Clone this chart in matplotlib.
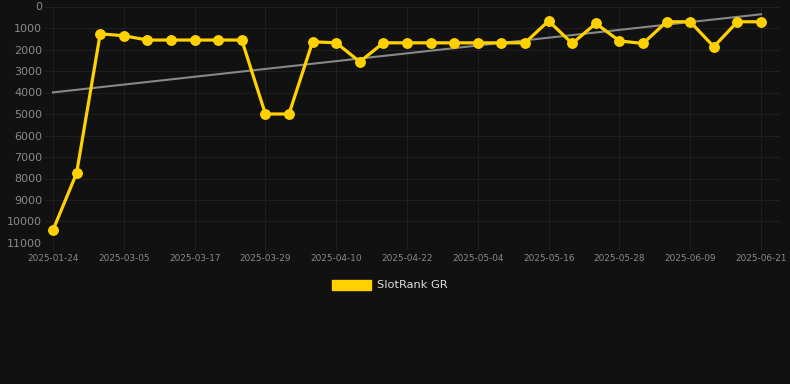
import numpy as np
import matplotlib
matplotlib.use("Agg")
import matplotlib.pyplot as plt
from matplotlib.patches import Patch

# dates of the rank samples (categorical x axis, every 3rd labelled)
dates = ["2025-01-24", "2025-02-07", "2025-02-21",
         "2025-03-05", "2025-03-09", "2025-03-13", "2025-03-17", "2025-03-21",
         "2025-03-25", "2025-03-29", "2025-04-02", "2025-04-06", "2025-04-10",
         "2025-04-14", "2025-04-18", "2025-04-22", "2025-04-26", "2025-04-30",
         "2025-05-04", "2025-05-08", "2025-05-12", "2025-05-16", "2025-05-20",
         "2025-05-24", "2025-05-28", "2025-06-01", "2025-06-05", "2025-06-09",
         "2025-06-13", "2025-06-17", "2025-06-21"]
rank = [10400, 7750, 1270, 1360, 1560, 1560, 1560, 1560, 1560, 5000, 5000,
        1640, 1690, 2570, 1690, 1690, 1690, 1690, 1690, 1690, 1690, 670,
        1720, 790, 1600, 1720, 710, 710, 1870, 710, 710]
series_name = "SlotRank GR"

bg = "#111111"
yellow = "#FFD100"

fig = plt.figure(figsize=(7.9, 3.84), dpi=100, facecolor=bg)
left, right = 45, 780
ax = fig.add_axes([left/790, 1 - 243/384, (right - left)/790, (243 - 6.5)/384])
ax.set_facecolor(bg)

x = np.arange(len(dates))
step = (761 - 53) / (len(dates) - 1)
coef = np.polyfit(x, rank, 1)
ax.plot(x, np.polyval(coef, x), color="#888888", lw=1.5, zorder=2)
ax.plot(x, rank, color=yellow, lw=2.3, marker="o", ms=6.8, zorder=3)

ax.set_ylim(11000, 0)
ax.set_yticks(np.arange(0, 11001, 1000))
ax.set_xlim(-(53 - left)/step, len(dates) - 1 + (right - 761)/step)
ax.set_xticks(x[::3])
ax.set_xticklabels(dates[::3])

ax.grid(True, color="#1f1f1f", lw=0.8)
for s in ax.spines.values():
    s.set_visible(False)
ax.tick_params(axis="y", length=0, pad=2, labelsize=8, labelcolor="#8a8a8a")
ax.tick_params(axis="x", length=5, color="#1f1f1f", pad=3, labelsize=6.4,
               labelcolor="#8a8a8a")

fig.legend(handles=[Patch(color=yellow, label=series_name)],
           loc="center", bbox_to_anchor=(0.4935, 1 - 285/384), frameon=False,
           handlelength=3.4, handleheight=1.0, handletextpad=0.55,
           fontsize=8.2, labelcolor="#dddddd")

fig.savefig("out.png", dpi=100, facecolor=bg)
